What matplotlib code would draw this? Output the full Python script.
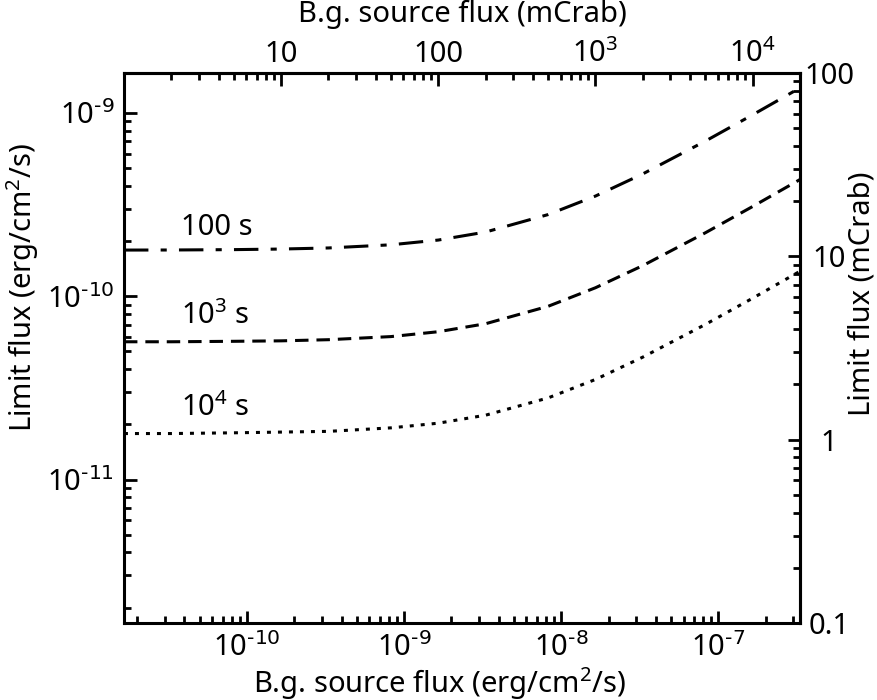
import numpy as np
import matplotlib
matplotlib.use('Agg')
import matplotlib.pyplot as plt
from matplotlib.ticker import FixedLocator, FixedFormatter, LogLocator, NullFormatter

plt.rcParams['font.family'] = ['Noto Sans', 'DejaVu Sans']
plt.rcParams['font.weight'] = 'medium'
plt.rcParams['mathtext.default'] = 'regular'

# 1 mCrab in erg/cm2/s
MCRAB = 1.65e-11

# background source flux (mCrab)
bg_mcrab = [1, 2, 5, 10, 20, 50, 100, 200, 500, 1000, 2000, 5000, 10000, 20000]

# limit flux (mCrab) for each exposure
lim_100s = [10.82, 10.83, 10.88, 10.96, 11.11, 11.56, 12.27, 13.57, 16.90, 21.32, 28.16, 42.51, 59.14, 82.94]
lim_1e3s = [3.42, 3.42, 3.44, 3.46, 3.51, 3.65, 3.88, 4.29, 5.34, 6.74, 8.90, 13.44, 18.70, 26.23]
lim_1e4s = [1.08, 1.08, 1.09, 1.10, 1.11, 1.16, 1.23, 1.36, 1.69, 2.13, 2.82, 4.25, 5.91, 8.29]

labels = ['100 s', '10$^3$ s', '10$^4$ s']
label_pos = [(2.3, 14.3), (2.3, 4.7), (2.3, 1.49)]

bottom_ticks = ['10$^{\\text{-10}}$', '10$^{\\text{-9}}$', '10$^{\\text{-8}}$', '10$^{\\text{-7}}$']
left_ticks = ['10$^{\\text{-11}}$', '10$^{\\text{-10}}$', '10$^{\\text{-9}}$']
top_ticks = ['10', '100', '10$^3$', '10$^4$']
right_ticks = ['0.1', '1', '10', '100']

x = np.array(bg_mcrab) * MCRAB

fig = plt.figure(figsize=(8.78, 7.0), dpi=100)
ax = fig.add_axes([0.1412, 0.11, 0.7699, 0.7857])

lw = 2.2
ax.plot(x, np.array(lim_100s) * MCRAB, color='black', lw=lw, ls=(0, (8, 4, 2, 4)))
ax.plot(x, np.array(lim_1e3s) * MCRAB, color='black', lw=lw, ls=(0, (4.4, 2.6)))
ax.plot(x, np.array(lim_1e4s) * MCRAB, color='black', lw=lw, ls=(0, (1.3, 2.3)))

for t, (px, py) in zip(labels, label_pos):
    ax.text(px * MCRAB, py * MCRAB, t, fontsize=21, ha='left', va='center')

ax.set_xscale('log')
ax.set_yscale('log')
ax.set_xlim(1 * MCRAB, 20000 * MCRAB)
ax.set_ylim(0.1 * MCRAB, 100 * MCRAB)

ax.xaxis.set_major_locator(FixedLocator([1e-10, 1e-9, 1e-8, 1e-7]))
ax.xaxis.set_major_formatter(FixedFormatter(bottom_ticks))
ax.yaxis.set_major_locator(FixedLocator([1e-11, 1e-10, 1e-9]))
ax.yaxis.set_major_formatter(FixedFormatter(left_ticks))
for a in (ax.xaxis, ax.yaxis):
    a.set_minor_locator(LogLocator(base=10, subs=np.arange(2, 10), numticks=20))
    a.set_minor_formatter(NullFormatter())

ax.tick_params(which='both', direction='in', width=2, labelsize=21)
ax.tick_params(which='major', length=9, pad=7)
ax.tick_params(which='minor', length=5)
for s in ax.spines.values():
    s.set_linewidth(2.2)

to_mc = lambda v: v / MCRAB
to_erg = lambda v: v * MCRAB

top = ax.secondary_xaxis('top', functions=(to_mc, to_erg))
top.xaxis.set_major_locator(FixedLocator([10, 100, 1000, 10000]))
top.xaxis.set_major_formatter(FixedFormatter(top_ticks))
top.xaxis.set_minor_locator(LogLocator(base=10, subs=np.arange(2, 10), numticks=20))
top.xaxis.set_minor_formatter(NullFormatter())
top.tick_params(which='major', pad=3)

right = ax.secondary_yaxis('right', functions=(to_mc, to_erg))
right.yaxis.set_major_locator(FixedLocator([0.1, 1, 10, 100]))
right.yaxis.set_major_formatter(FixedFormatter(right_ticks))
right.yaxis.set_minor_locator(LogLocator(base=10, subs=np.arange(2, 10), numticks=20))
right.yaxis.set_minor_formatter(NullFormatter())
right.tick_params(which='major', pad=21)

for sec in (top, right):
    sec.tick_params(which='both', direction='in', width=2, labelsize=21)
    sec.tick_params(which='major', length=9)
    sec.tick_params(which='minor', length=5)
    for s in sec.spines.values():
        s.set_linewidth(2.2)

# right-hand numbers are centred in the reference
for lab in right.yaxis.get_ticklabels():
    lab.set_ha('center')

# axis titles placed where the reference has them
fig.text(0.5, 0.024, 'B.g. source flux (erg/cm$^2$/s)', fontsize=21, ha='center', va='center')
fig.text(0.527, 0.979, 'B.g. source flux (mCrab)', fontsize=21, ha='center', va='center')
fig.text(0.026, 0.589, 'Limit flux (erg/cm$^2$/s)', fontsize=21, ha='center', va='center', rotation=90)
fig.text(0.982, 0.58, 'Limit flux (mCrab)', fontsize=21, ha='center', va='center', rotation=90)

fig.savefig('out.png', dpi=100)
